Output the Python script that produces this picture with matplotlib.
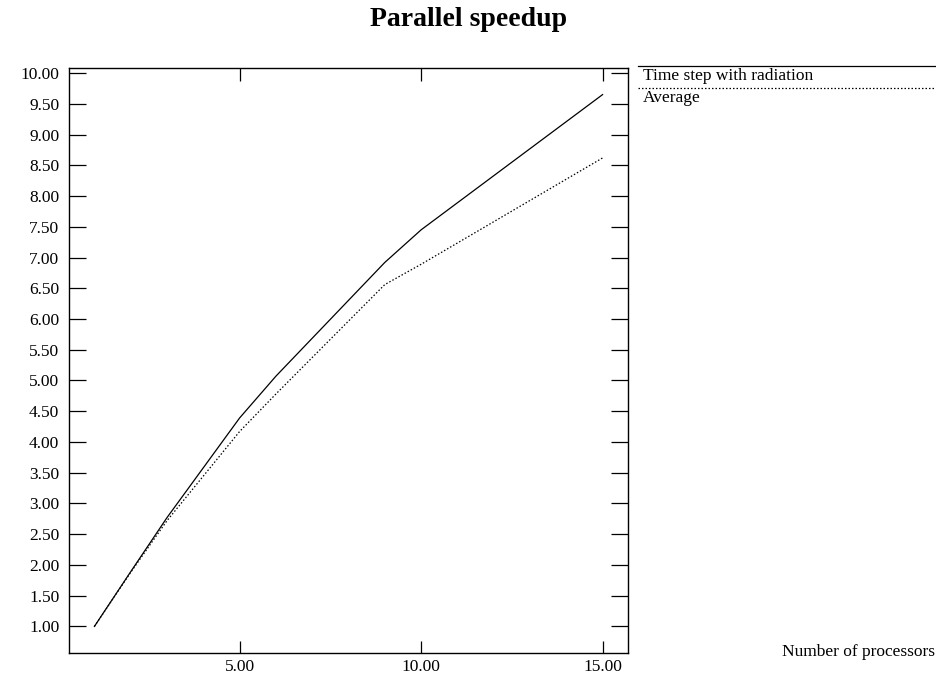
import matplotlib
matplotlib.use("Agg")
import matplotlib.pyplot as plt
from matplotlib.lines import Line2D
from matplotlib.ticker import FormatStrFormatter, MultipleLocator

plt.rcParams['font.family'] = ['Liberation Serif', 'DejaVu Serif']

processors = [1, 2, 3, 5, 6, 9, 10, 15]
speedup_radiation = [1.00, 1.89, 2.77, 4.39, 5.07, 6.92, 7.45, 9.65]
speedup_average = [1.00, 1.88, 2.72, 4.17, 4.78, 6.56, 6.89, 8.62]
series_labels = ["Time step with radiation", "Average"]
title = "Parallel speedup"
xlabel = "Number of processors"

fig = plt.figure(figsize=(9.37, 6.77), dpi=100)
ax = fig.add_axes([69/937, 24/677, (628-69)/937, (653-68)/677])

ax.plot(processors, speedup_radiation, color='black', lw=0.9, ls='-')
ax.plot(processors, speedup_average, color='black', lw=0.9, ls=(0, (1.2, 1.6)))

ax.xaxis.set_major_locator(MultipleLocator(5))
ax.yaxis.set_major_locator(MultipleLocator(0.5))
ax.xaxis.set_major_formatter(FormatStrFormatter('%.2f'))
ax.yaxis.set_major_formatter(FormatStrFormatter('%.2f'))
ax.set_xlim(0.3, 15.7)
ax.set_ylim(1 - 0.05 * (9.65 - 1), 9.65 + 0.05 * (9.65 - 1))

ax.tick_params(axis='y', direction='in', length=12, width=0.9, left=True, right=True,
               labelsize=12.5, pad=7)
ax.tick_params(axis='x', direction='in', length=9, width=0.9, top=True, bottom=True,
               labelsize=12.5, pad=4)
for s in ax.spines.values():
    s.set_linewidth(1.0)

fig.text(0.5, 1 - 20/677, title, ha='center', va='center', fontsize=20, fontweight='bold')
fig.text(935/937, 1 - 652/677, xlabel, ha='right', va='center', fontsize=12.5)

# legend drawn at the right of the plot
styles = ['-', (0, (1.2, 1.6))]
ys = [66, 88]
for lab, st, y in zip(series_labels, styles, ys):
    fig.add_artist(Line2D([638/937, 1.0], [1 - y/677, 1 - y/677], transform=fig.transFigure,
                          color='black', lw=0.9, ls=st))
    fig.text(643/937, 1 - (y + 2)/677, lab, ha='left', va='top', fontsize=12.5)

fig.savefig('out.png', dpi=100)
